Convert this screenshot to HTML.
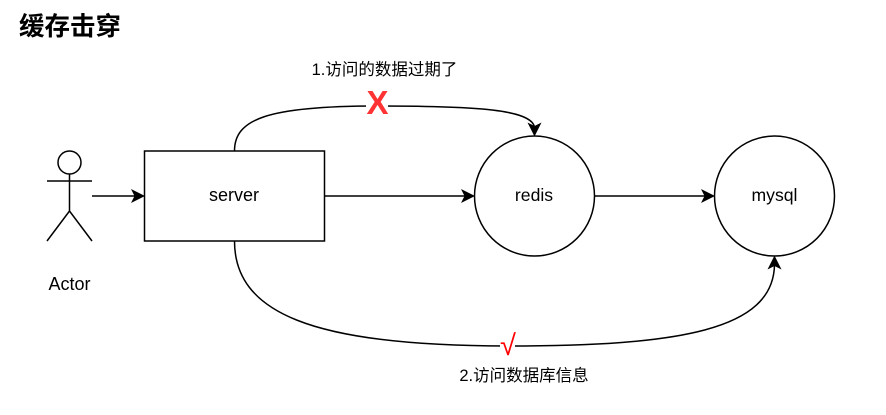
<!DOCTYPE html>
<html>
<head>
<meta charset="utf-8">
<style>
html,body{margin:0;padding:0;background:#fff;width:886px;height:415px;overflow:hidden}
svg{display:block}
text{font-family:"Liberation Sans","Noto Sans CJK SC",sans-serif;fill:#000}
</style>
</head>
<body>
<svg width="886" height="415" viewBox="0 0 886 415" xmlns="http://www.w3.org/2000/svg">
<text x="19" y="35" font-size="25.500" font-weight="bold">缓存击穿</text>
<g fill="none" stroke="#000" stroke-width="1.500">
<rect x="144.500" y="151" width="180" height="90"/>
<circle cx="534.500" cy="196" r="60"/>
<circle cx="774.500" cy="196" r="60"/>
<circle cx="69.500" cy="162.500" r="11.500"/>
<path d="M47 181H92M69.500 174V211M47 241L69.500 211L92 241"/>
<path d="M92 196H137"/>
<path d="M324.500 196H467"/>
<path d="M594.500 196H707"/>
<path d="M234.500 151C234.500 120 265 106 377 106C480 106 531 110 534.500 127"/>
<path d="M234.500 241C234.500 312 310 346 507 346C680 346 773 330 774.500 265"/>
</g>
<g fill="#000">
<path d="M145 196L131 189L134.500 196L131 203Z"/>
<path d="M475 196L461 189L464.500 196L461 203Z"/>
<path d="M715 196L701 189L704.500 196L701 203Z"/>
<path d="M534.500 136.500L527.500 122.500L534.500 126L541.500 122.500Z"/>
<path d="M774.500 255.500L767.500 269.500L774.500 266L781.500 269.500Z"/>
</g>
<rect x="366" y="88" width="22" height="30" fill="#fff"/>
<rect x="500" y="332" width="15" height="26" fill="#fff"/>
<text x="377.500" y="114" font-size="33" font-weight="bold" text-anchor="middle" style="fill:#ff3333">X</text>
<text x="508" y="355" font-size="29" text-anchor="middle" style="fill:#ff0000">√</text>
<text x="234" y="201" font-size="18" text-anchor="middle">server</text>
<text x="534" y="201" font-size="17.600" text-anchor="middle">redis</text>
<text x="774.500" y="201" font-size="17.600" text-anchor="middle">mysql</text>
<text x="69.500" y="290" font-size="18" text-anchor="middle">Actor</text>
<text x="384.500" y="75" font-size="16.500" text-anchor="middle">1.访问的数据过期了</text>
<text x="524" y="381" font-size="16.500" text-anchor="middle">2.访问数据库信息</text>
</svg>
</body>
</html>
